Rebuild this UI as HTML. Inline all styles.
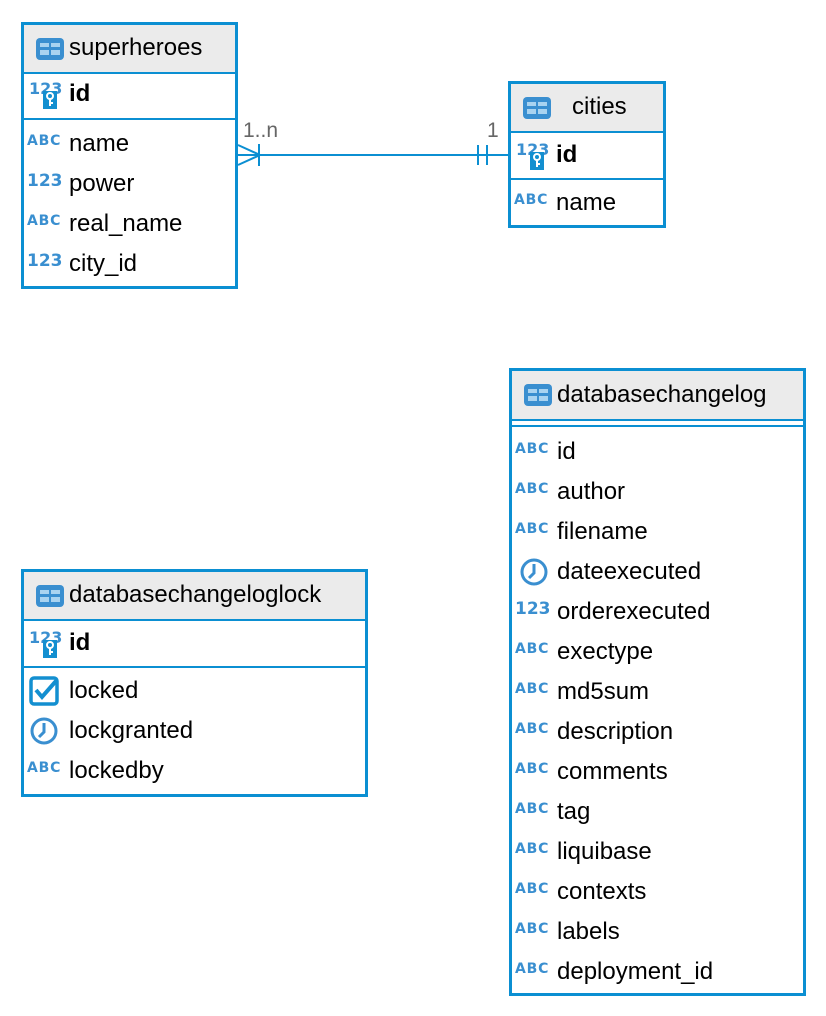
<!DOCTYPE html>
<html><head><meta charset="utf-8"><style>
body{margin:0;width:826px;height:1016px;background:#fff;position:relative;font-family:"Liberation Sans","DejaVu Sans",sans-serif;overflow:hidden}
.box{position:absolute;border:3px solid #0b8fd2;box-sizing:border-box;background:#fff}
.hd{position:absolute;left:0;right:0;top:0;background:#ebebeb;border-bottom:2px solid #0b8fd2}
.sep{position:absolute;left:0;right:0;height:2px;background:#0b8fd2}
.r{position:absolute;left:0;right:0;height:40px;line-height:40px;font-size:24px;color:#000}
.r .t{position:absolute;left:45px;top:0}
.b{font-weight:bold}
.ic{position:absolute;left:4px;top:0;width:36px;height:40px}
.abc{position:absolute;left:3px;top:-3px;font-size:14px;font-weight:bold;color:#3a8fd0;letter-spacing:0.8px;font-family:"DejaVu Sans",sans-serif}
.n123{position:absolute;left:3px;top:-3px;font-size:17px;font-weight:bold;color:#3a8fd0;font-family:"DejaVu Sans",sans-serif}
.tbl{position:absolute;left:12px;top:13px}
.lbl{position:absolute;font-size:21px;color:#666}
</style></head><body>

<svg width="0" height="0" style="position:absolute">
<defs>
<g id="tbl"><rect x="0" y="0" width="28" height="22" rx="4" fill="#3a8fd0"/><rect x="4" y="5" width="9" height="4" fill="#a9d3f0"/><rect x="15" y="5" width="9" height="4" fill="#a9d3f0"/><rect x="4" y="12" width="9" height="5" fill="#a9d3f0"/><rect x="15" y="12" width="9" height="5" fill="#a9d3f0"/></g>
<g id="key"><text x="0" y="15" font-family="DejaVu Sans" font-weight="bold" font-size="16" fill="#3a8fd0">123</text><rect x="14" y="12" width="14" height="18" fill="#138fd0"/><circle cx="21" cy="17" r="3" fill="none" stroke="#fff" stroke-width="2"/><path d="M21 20v7M21 24h3" stroke="#fff" stroke-width="2"/></g>
<g id="clk"><circle cx="16" cy="20" r="12" fill="none" stroke="#3a8fd0" stroke-width="3"/><path d="M16 12v9l-5 5" fill="none" stroke="#3a8fd0" stroke-width="3"/></g>
<g id="chk"><rect x="6" y="7" width="26" height="26" rx="3" fill="none" stroke="#138fd0" stroke-width="3.5"/><path d="M11 19l6 7l14-16" fill="none" stroke="#138fd0" stroke-width="4"/></g>
</defs></svg>

<!-- superheroes -->
<div class="box" style="left:21px;top:22px;width:217px;height:267px">
 <div class="hd" style="height:47px"><svg class="tbl" width="28" height="22"><use href="#tbl"/></svg><div style="position:absolute;left:45px;top:0;line-height:46px;font-size:24px">superheroes</div></div>
 <div class="r" style="top:49px"><svg class="ic"><use href="#key" y="5" x="1"/></svg><span class="t b">id</span></div>
 <div class="sep" style="top:93px"></div>
 <div class="r" style="top:99px"><span class="abc">ABC</span><span class="t">name</span></div>
 <div class="r" style="top:139px"><span class="n123">123</span><span class="t">power</span></div>
 <div class="r" style="top:179px"><span class="abc">ABC</span><span class="t">real_name</span></div>
 <div class="r" style="top:219px"><span class="n123">123</span><span class="t">city_id</span></div>
</div>

<!-- cities -->
<div class="box" style="left:508px;top:81px;width:158px;height:147px">
 <div class="hd" style="height:47px"><svg class="tbl" width="28" height="22"><use href="#tbl"/></svg><div style="position:absolute;left:61px;top:0;line-height:46px;font-size:24px">cities</div></div>
 <div class="r" style="top:51px"><svg class="ic"><use href="#key" y="5" x="1"/></svg><span class="t b">id</span></div>
 <div class="sep" style="top:94px"></div>
 <div class="r" style="top:99px"><span class="abc">ABC</span><span class="t">name</span></div>
</div>

<!-- connector -->
<svg style="position:absolute;left:0;top:0" width="826" height="300">
 <line x1="238" y1="155" x2="508" y2="155" stroke="#0b8fd2" stroke-width="2"/>
 <path d="M238 145L260 155L238 165" fill="none" stroke="#0b8fd2" stroke-width="2"/>
 <line x1="259" y1="144" x2="259" y2="166" stroke="#0b8fd2" stroke-width="2"/>
 <line x1="478" y1="145" x2="478" y2="165" stroke="#0b8fd2" stroke-width="2"/>
 <line x1="487" y1="145" x2="487" y2="165" stroke="#0b8fd2" stroke-width="2"/>
</svg>
<div class="lbl" style="left:243px;top:119px">1..n</div>
<div class="lbl" style="left:487px;top:119px">1</div>

<!-- databasechangelog -->
<div class="box" style="left:509px;top:368px;width:297px;height:628px">
 <div class="hd" style="height:48px"><svg class="tbl" width="28" height="22"><use href="#tbl"/></svg><div style="position:absolute;left:45px;top:0;line-height:48px;font-size:24px">databasechangelog</div></div>
 <div class="sep" style="top:54px"></div>
 <div class="r" style="top:61px"><span class="abc">ABC</span><span class="t">id</span></div>
 <div class="r" style="top:101px"><span class="abc">ABC</span><span class="t">author</span></div>
 <div class="r" style="top:141px"><span class="abc">ABC</span><span class="t">filename</span></div>
 <div class="r" style="top:181px"><svg class="ic" style="left:6px"><use href="#clk"/></svg><span class="t">dateexecuted</span></div>
 <div class="r" style="top:221px"><span class="n123">123</span><span class="t">orderexecuted</span></div>
 <div class="r" style="top:261px"><span class="abc">ABC</span><span class="t">exectype</span></div>
 <div class="r" style="top:301px"><span class="abc">ABC</span><span class="t">md5sum</span></div>
 <div class="r" style="top:341px"><span class="abc">ABC</span><span class="t">description</span></div>
 <div class="r" style="top:381px"><span class="abc">ABC</span><span class="t">comments</span></div>
 <div class="r" style="top:421px"><span class="abc">ABC</span><span class="t">tag</span></div>
 <div class="r" style="top:461px"><span class="abc">ABC</span><span class="t">liquibase</span></div>
 <div class="r" style="top:501px"><span class="abc">ABC</span><span class="t">contexts</span></div>
 <div class="r" style="top:541px"><span class="abc">ABC</span><span class="t">labels</span></div>
 <div class="r" style="top:581px"><span class="abc">ABC</span><span class="t">deployment_id</span></div>
</div>

<!-- databasechangeloglock -->
<div class="box" style="left:21px;top:569px;width:347px;height:228px">
 <div class="hd" style="height:47px"><svg class="tbl" width="28" height="22"><use href="#tbl"/></svg><div style="position:absolute;left:45px;top:0;line-height:46px;font-size:24px">databasechangeloglock</div></div>
 <div class="r" style="top:51px"><svg class="ic"><use href="#key" y="5" x="1"/></svg><span class="t b">id</span></div>
 <div class="sep" style="top:94px"></div>
 <div class="r" style="top:99px"><svg class="ic" style="left:1px"><use href="#chk"/></svg><span class="t">locked</span></div>
 <div class="r" style="top:139px"><svg class="ic" style="left:4px"><use href="#clk"/></svg><span class="t">lockgranted</span></div>
 <div class="r" style="top:179px"><span class="abc">ABC</span><span class="t">lockedby</span></div>
</div>

</body></html>
